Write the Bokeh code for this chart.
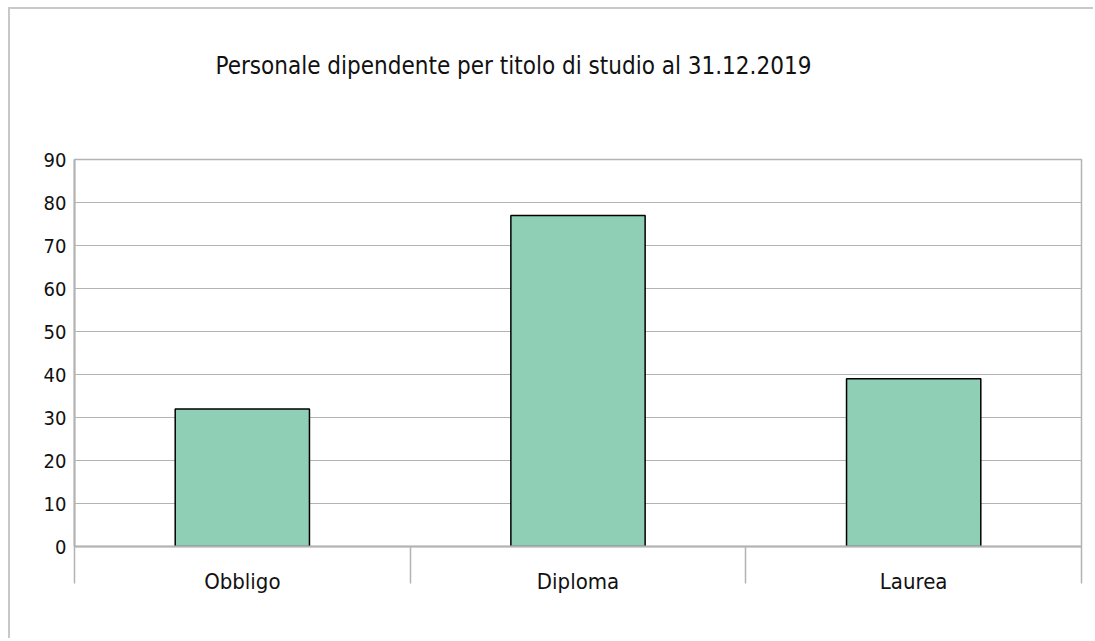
from bokeh.plotting import figure
from bokeh.models import Range1d, FixedTicker, Title
from bokeh.embed import file_html
from bokeh.resources import INLINE

categories = ["Obbligo", "Diploma", "Laurea"]
values = [32, 77, 39]
y_ticks = [0, 10, 20, 30, 40, 50, 60, 70, 80, 90]
title_text = "Personale dipendente per titolo di studio al 31.12.2019"

FONT = "DejaVu Sans Condensed"
GRAY = "#b3b3b3"
BAR = "#8ecfb6"

n = len(categories)
centers = [i + 0.5 for i in range(n)]
edges = [float(i) for i in range(n + 1)]

p = figure(width=1085, height=631, output_backend="svg", toolbar_location=None,
           x_range=Range1d(0, n), y_range=Range1d(y_ticks[0], y_ticks[-1]),
           min_border_left=64, min_border_right=14, min_border_top=150, min_border_bottom=94)
p.styles = {"border-top": "2px solid #c8c8c8", "border-left": "2px solid #c8c8c8",
            "margin-left": "8px", "margin-top": "7px"}
p.title.text = ""

spacer = Title(text=" ", text_font_size="1px", standoff=72)
main_title = Title(text=title_text, align="left", offset=141, standoff=10,
                   text_font=FONT, text_font_size="24px", text_font_style="normal",
                   text_color="#111111")
p.add_layout(spacer, "above")
p.add_layout(main_title, "above")

p.vbar(x=centers, top=values, width=0.4, fill_color=BAR, line_color="black", line_width=1.5)

p.outline_line_color = GRAY
p.outline_line_width = 1.5
p.xgrid.visible = False
p.ygrid.grid_line_color = GRAY
p.ygrid.grid_line_width = 1.2
p.ygrid.ticker = FixedTicker(ticks=y_ticks)

xa = p.xaxis[0]
xa.ticker = FixedTicker(ticks=centers, minor_ticks=edges)
xa.major_label_overrides = {c: lab for c, lab in zip(centers, categories)}
xa.major_tick_out = 0
xa.major_tick_in = 0
xa.minor_tick_out = 37
xa.minor_tick_in = 0
xa.minor_tick_line_color = GRAY
xa.minor_tick_line_width = 1.5
xa.axis_line_color = GRAY
xa.axis_line_width = 2
xa.major_label_standoff = -15
xa.major_label_text_font = FONT
xa.major_label_text_font_size = "22px"
xa.major_label_text_color = "#111111"

ya = p.yaxis[0]
ya.ticker = FixedTicker(ticks=y_ticks)
ya.major_tick_out = 0
ya.major_tick_in = 0
ya.minor_tick_line_color = None
ya.axis_line_color = GRAY
ya.axis_line_width = 2
ya.major_label_standoff = 8
ya.major_label_text_font = FONT
ya.major_label_text_font_size = "20px"
ya.major_label_text_color = "#111111"

open("out.html", "w").write(file_html(p, INLINE))
